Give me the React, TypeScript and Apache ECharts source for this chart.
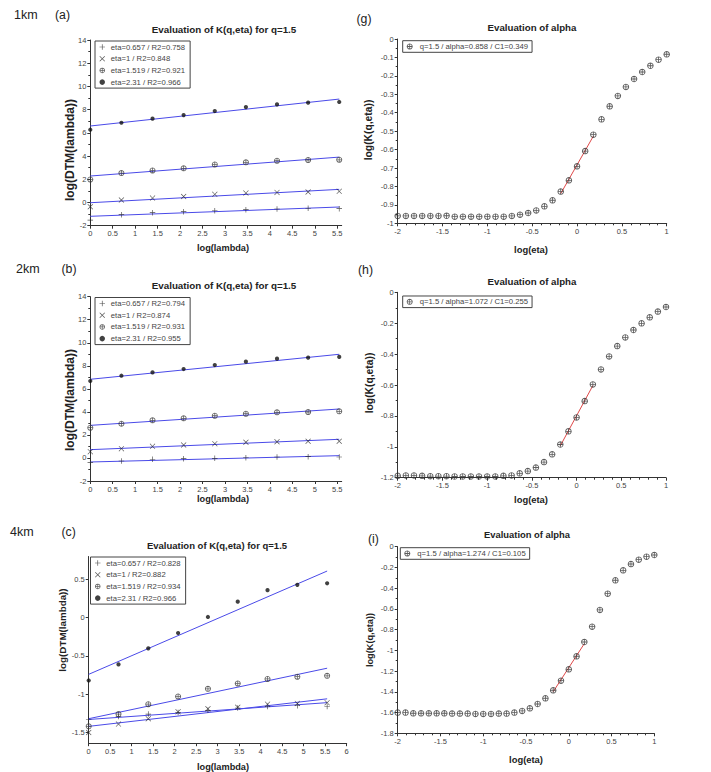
import React, { useEffect, useRef } from "react";
import * as echarts from "echarts";

const FONT = '"Liberation Sans", Arial, sans-serif';

// ---------- data ----------
const lambdaLog = [0, 0.693, 1.386, 2.079, 2.773, 3.466, 4.159, 4.852, 5.545];
const fitLambdaX = [0, 5.545];

const etaNames = ["eta=0.657", "eta=1", "eta=1.519", "eta=2.31"];

const r2_1km = ["0.758", "0.848", "0.921", "0.966"];
const km1_eta0657 = [-1.52, -1.05, -0.88, -0.79, -0.71, -0.62, -0.56, -0.5, -0.53];
const km1_eta1 = [-0.37, 0.21, 0.38, 0.52, 0.7, 0.81, 0.87, 0.9, 0.96];
const km1_eta1519 = [1.99, 2.53, 2.76, 2.94, 3.28, 3.46, 3.6, 3.66, 3.68];
const km1_eta231 = [6.27, 6.87, 7.22, 7.53, 7.88, 8.22, 8.45, 8.6, 8.66];
const km1_fit0657 = [-1.19, -0.39];
const km1_fit1 = [-0.02, 1.13];
const km1_fit1519 = [2.28, 3.91];
const km1_fit231 = [6.59, 8.91];

const r2_2km = ["0.794", "0.874", "0.931", "0.955"];
const km2_eta0657 = [-0.4, -0.26, -0.11, -0.06, -0.03, 0.02, 0.08, 0.11, 0.08];
const km2_eta1 = [0.55, 0.81, 1.01, 1.13, 1.24, 1.36, 1.41, 1.45, 1.45];
const km2_eta1519 = [2.63, 2.98, 3.27, 3.44, 3.67, 3.84, 3.96, 3.99, 4.05];
const km2_eta231 = [6.68, 7.14, 7.43, 7.72, 8.07, 8.36, 8.62, 8.71, 8.77];
const km2_fit0657 = [-0.35, 0.2];
const km2_fit1 = [0.72, 1.62];
const km2_fit1519 = [2.83, 4.25];
const km2_fit231 = [6.83, 9.0];

const r2_4km = ["0.828", "0.882", "0.934", "0.966"];
const km4_eta0657 = [-1.33, -1.29, -1.26, -1.24, -1.21, -1.18, -1.16, -1.15, -1.16];
const km4_eta1 = [-1.5, -1.39, -1.32, -1.23, -1.19, -1.17, -1.13, -1.12, -1.11];
const km4_eta1519 = [-1.42, -1.26, -1.13, -1.03, -0.93, -0.86, -0.8, -0.77, -0.76];
const km4_eta231 = [-0.82, -0.61, -0.4, -0.2, 0.01, 0.21, 0.36, 0.43, 0.45];
const km4_fit0657 = [-1.33, -1.11];
const km4_fit1 = [-1.42, -1.06];
const km4_fit1519 = [-1.32, -0.66];
const km4_fit231 = [-0.74, 0.61];

const etaLog = [
  -2, -1.909, -1.818, -1.727, -1.636, -1.545, -1.455, -1.364, -1.273, -1.182, -1.091,
  -1, -0.909, -0.818, -0.727, -0.636, -0.545, -0.455, -0.364, -0.273, -0.182, -0.091,
  0, 0.091, 0.182, 0.273, 0.364, 0.455, 0.545, 0.636, 0.727, 0.818, 0.909, 1,
];
const kG = [
  -0.96, -0.96, -0.96, -0.96, -0.96, -0.96, -0.959, -0.964, -0.964, -0.964, -0.964,
  -0.964, -0.964, -0.964, -0.96, -0.953, -0.944, -0.93, -0.908, -0.875, -0.828, -0.767,
  -0.691, -0.608, -0.519, -0.436, -0.365, -0.309, -0.26, -0.217, -0.179, -0.145, -0.112, -0.083,
];
const kH = [
  -1.188, -1.185, -1.185, -1.188, -1.19, -1.19, -1.19, -1.192, -1.192, -1.192, -1.192,
  -1.192, -1.192, -1.188, -1.185, -1.172, -1.157, -1.134, -1.099, -1.049, -0.985, -0.9,
  -0.81, -0.704, -0.596, -0.499, -0.415, -0.348, -0.292, -0.244, -0.201, -0.162, -0.125, -0.095,
];
const kI = [
  -1.6, -1.6, -1.607, -1.607, -1.607, -1.607, -1.607, -1.61, -1.61, -1.61, -1.613,
  -1.613, -1.613, -1.61, -1.61, -1.6, -1.584, -1.559, -1.517, -1.462, -1.385, -1.292,
  -1.183, -1.057, -0.919, -0.771, -0.61, -0.453, -0.324, -0.228, -0.167, -0.125, -0.096, -0.08,
];
const fitEtaX = [-0.182, 0.182];
const fitG = [-0.839, -0.527];
const fitH = [-0.994, -0.604];
const fitI = [-1.399, -0.935];
const alphaLegends = [
  "q=1.5 / alpha=0.858 / C1=0.349",
  "q=1.5 / alpha=1.072 / C1=0.255",
  "q=1.5 / alpha=1.274 / C1=0.105",
];

const lambdaTicks = [0, 0.5, 1, 1.5, 2, 2.5, 3, 3.5, 4, 4.5, 5, 5.5];
const km4YTicks = [-1.5, -1, -0.5, 0, 0.5];

// ---------- styles ----------
const SYM_PLUS = "path://M4.4,0H5.6V4.4H10V5.6H5.6V10H4.4V5.6H0V4.4H4.4Z";
const SYM_X = "path://M0.8,0L5,4.2L9.2,0L10,0.8L5.8,5L10,9.2L9.2,10L5,5.8L0.8,10L0,9.2L4.2,5L0,0.8Z";
const SYM_OPLUS =
  "path://M10,0A10,10 0 1 1 9.99,0Z M10,2.8A7.2,7.2 0 1 0 10.01,2.8Z M8.7,2.8H11.3V8.7H17.2V11.3H11.3V17.2H8.7V11.3H2.8V8.7H8.7Z";
const markerStyles = [
  { symbol: SYM_PLUS, size: 5.5, color: "#222" },
  { symbol: SYM_X, size: 5.5, color: "#222" },
  { symbol: SYM_OPLUS, size: 6, color: "#3a3a3a" },
  { symbol: "circle", size: 4.2, color: "#111" },
];
const BLUE = "#4a4ae8";
const RED = "#e04848";

function axis(extra: any) {
  const base: any = {
    type: "value",
    axisLine: { show: true, onZero: false, lineStyle: { color: "#333", width: 1 } },
    axisTick: { show: true, length: 3, lineStyle: { color: "#333", width: 1 } },
    minorTick: { show: false },
    splitLine: { show: false },
    axisLabel: { fontSize: 7.5, color: "#444", fontFamily: FONT, margin: 4 },
  };
  const out: any = { ...base, ...extra };
  for (const k of ["axisLine", "axisTick", "minorTick", "axisLabel"]) {
    out[k] = { ...base[k], ...(extra[k] || {}) };
  }
  return out;
}

function App() {
  const ref = useRef<HTMLDivElement>(null);
  useEffect(() => {
    if (!ref.current) return;
    const chart = echarts.init(ref.current, null, { renderer: "svg" });

    const grids = [
      { left: 90.3, top: 40, width: 251.4, height: 185.7 }, // a
      { left: 90.3, top: 296.7, width: 251.4, height: 184.3 }, // b
      { left: 88.7, top: 556.5, width: 258, height: 186.7 }, // c
      { left: 397.7, top: 39, width: 269, height: 184.3 }, // g
      { left: 397.7, top: 292.3, width: 268.3, height: 185.4 }, // h
      { left: 397.7, top: 546.7, width: 256.6, height: 186.6 }, // i
    ].map((g) => ({ ...g, show: false, containLabel: false, outerBoundsMode: "none" }));

    const xAxes = [
      axis({ gridIndex: 0, min: 0, max: 5.6, axisLabel: { customValues: lambdaTicks }, axisTick: { customValues: lambdaTicks } }),
      axis({ gridIndex: 1, min: 0, max: 5.6, axisLabel: { customValues: lambdaTicks }, axisTick: { customValues: lambdaTicks } }),
      axis({ gridIndex: 2, min: 0, max: 6, interval: 0.5 }),
      axis({ gridIndex: 3, min: -2, max: 1, interval: 0.5, minorTick: { show: true, splitNumber: 5, length: 2 } }),
      axis({ gridIndex: 4, min: -2, max: 1, interval: 0.5, minorTick: { show: true, splitNumber: 5, length: 2 } }),
      axis({ gridIndex: 5, min: -2, max: 1, interval: 0.5, minorTick: { show: true, splitNumber: 5, length: 2 } }),
    ];
    const yAxes = [
      axis({ gridIndex: 0, min: -2, max: 14, interval: 2, minorTick: { show: true, splitNumber: 2, length: 2 } }),
      axis({ gridIndex: 1, min: -2, max: 14, interval: 2, minorTick: { show: true, splitNumber: 2, length: 2 } }),
      axis({ gridIndex: 2, min: -1.64, max: 0.8, axisLabel: { customValues: km4YTicks }, axisTick: { customValues: km4YTicks } }),
      axis({ gridIndex: 3, min: -1, max: 0, interval: 0.1, minorTick: { show: true, splitNumber: 2, length: 2 } }),
      axis({ gridIndex: 4, min: -1.2, max: 0, interval: 0.2, minorTick: { show: true, splitNumber: 2, length: 2 } }),
      axis({ gridIndex: 5, min: -1.8, max: 0, interval: 0.2, minorTick: { show: true, splitNumber: 2, length: 2 } }),
    ];

    const series: any[] = [];
    const legends: any[] = [];

    const leftPanels = [
      { r2: r2_1km, pts: [km1_eta0657, km1_eta1, km1_eta1519, km1_eta231], fits: [km1_fit0657, km1_fit1, km1_fit1519, km1_fit231], legend: { left: 95, top: 41 } },
      { r2: r2_2km, pts: [km2_eta0657, km2_eta1, km2_eta1519, km2_eta231], fits: [km2_fit0657, km2_fit1, km2_fit1519, km2_fit231], legend: { left: 95, top: 297.5 } },
      { r2: r2_4km, pts: [km4_eta0657, km4_eta1, km4_eta1519, km4_eta231], fits: [km4_fit0657, km4_fit1, km4_fit1519, km4_fit231], legend: { left: 90.5, top: 557 } },
    ];
    leftPanels.forEach((p, gi) => {
      const names: string[] = [];
      p.fits.forEach((f, k) => {
        series.push({
          type: "line",
          name: `fit-${gi}-${k}`,
          xAxisIndex: gi,
          yAxisIndex: gi,
          data: fitLambdaX.map((x, j) => [x, f[j]]),
          symbol: "none",
          lineStyle: { color: BLUE, width: 1 },
          z: 2,
        });
      });
      p.pts.forEach((vals, k) => {
        const name = `${etaNames[k]} / R2=${p.r2[k]}`;
        names.push(name);
        const m = markerStyles[k];
        series.push({
          type: "scatter",
          name,
          xAxisIndex: gi,
          yAxisIndex: gi,
          data: lambdaLog.map((x, j) => [x, vals[j]]),
          symbol: m.symbol,
          symbolSize: m.size,
          itemStyle: { color: m.color },
          z: 3,
        });
      });
      legends.push({
        ...p.legend,
        orient: "vertical",
        data: names,
        itemWidth: 9,
        itemHeight: 5.5,
        itemGap: 2.7,
        padding: [1.5, 5, 1.5, 4.5],
        borderColor: "#444",
        borderWidth: 1,
        borderRadius: 0,
        backgroundColor: "#fff",
        selectedMode: false,
        textStyle: { fontSize: 7.7, color: "#444", fontFamily: FONT, lineHeight: 9, padding: [0, 0, 0, -1] },
      });
    });

    const rightPanels = [
      { k: kG, fit: fitG, legend: { left: 402.7, top: 40.7 } },
      { k: kH, fit: fitH, legend: { left: 402.7, top: 296 } },
      { k: kI, fit: fitI, legend: { left: 400.3, top: 547.7 } },
    ];
    rightPanels.forEach((p, ri) => {
      const gi = 3 + ri;
      series.push({
        type: "line",
        name: `fitalpha-${ri}`,
        xAxisIndex: gi,
        yAxisIndex: gi,
        data: fitEtaX.map((x, j) => [x, p.fit[j]]),
        symbol: "none",
        lineStyle: { color: RED, width: 1 },
        z: 2,
      });
      series.push({
        type: "scatter",
        name: alphaLegends[ri],
        xAxisIndex: gi,
        yAxisIndex: gi,
        data: etaLog.map((x, j) => [x, p.k[j]]),
        symbol: SYM_OPLUS,
        symbolSize: 6.5,
        itemStyle: { color: "#333" },
        z: 3,
      });
      legends.push({
        ...p.legend,
        orient: "horizontal",
        data: [alphaLegends[ri]],
        itemWidth: 10,
        itemHeight: 6,
        padding: [1.8, 4, 1.8, 4],
        borderColor: "#444",
        borderWidth: 1,
        backgroundColor: "#fff",
        selectedMode: false,
        textStyle: { fontSize: 7.7, color: "#444", fontFamily: FONT, lineHeight: 8 },
      });
    });

    const txt = (text: string, x: number, y: number, size: number, bold: boolean, rot = 0, align = "center") => ({
      type: "text",
      x,
      y,
      rotation: rot,
      style: {
        text,
        fill: "#222",
        font: `${bold ? "bold " : ""}${size}px ${FONT}`,
        textAlign: align,
        textVerticalAlign: "middle",
      },
      z: 10,
    });
    const R = Math.PI / 2;
    const graphic = [
      txt("1km", 14, 15, 12.5, false, 0, "left"),
      txt("(a)", 55, 15, 12.3, false, 0, "left"),
      txt("2km", 16, 268.7, 12.5, false, 0, "left"),
      txt("(b)", 61.5, 268.7, 12.3, false, 0, "left"),
      txt("4km", 10, 532, 12.5, false, 0, "left"),
      txt("(c)", 61.5, 532, 12.3, false, 0, "left"),
      txt("(g)", 356.5, 18.7, 12.3, false, 0, "left"),
      txt("(h)", 358, 269.5, 12.3, false, 0, "left"),
      txt("(i)", 368, 539, 12.3, false, 0, "left"),
      txt("Evaluation of K(q,eta) for q=1.5", 224, 29, 9.8, true),
      txt("Evaluation of K(q,eta) for q=1.5", 224, 285, 9.8, true),
      txt("Evaluation of K(q,eta) for q=1.5", 217, 545, 9.5, true),
      txt("Evaluation of alpha", 532, 27.3, 9.7, true),
      txt("Evaluation of alpha", 532, 281.7, 9.7, true),
      txt("Evaluation of alpha", 527, 534.3, 9.4, true),
      txt("log(lambda)", 223, 248, 9.2, true),
      txt("log(lambda)", 223, 499, 9.2, true),
      txt("log(lambda)", 223, 766.5, 9.2, true),
      txt("log(eta)", 531, 249, 9.4, true),
      txt("log(eta)", 531, 499, 9.4, true),
      txt("log(eta)", 526, 759, 9.4, true),
      txt("log(DTM(lambda))", 70, 150, 12, true, R),
      txt("log(DTM(lambda))", 70, 400, 12, true, R),
      txt("log(DTM(lambda))", 62, 630, 9.8, true, R),
      txt("log(K(q,eta))", 368.5, 130, 10.3, true, R),
      txt("log(K(q,eta))", 369, 383, 10.3, true, R),
      txt("log(K(q,eta))", 370, 640, 9.2, true, R),
    ];

    chart.setOption({
      animation: false,
      backgroundColor: "#fff",
      textStyle: { fontFamily: FONT },
      grid: grids,
      xAxis: xAxes,
      yAxis: yAxes,
      legend: legends,
      series,
      graphic,
    });
    return () => chart.dispose();
  }, []);
  return (
    <div
      ref={ref}
      style={{ position: "absolute", left: 0, top: 0, width: 711, height: 772, background: "#fff" }}
    />
  );
}

export default App;
